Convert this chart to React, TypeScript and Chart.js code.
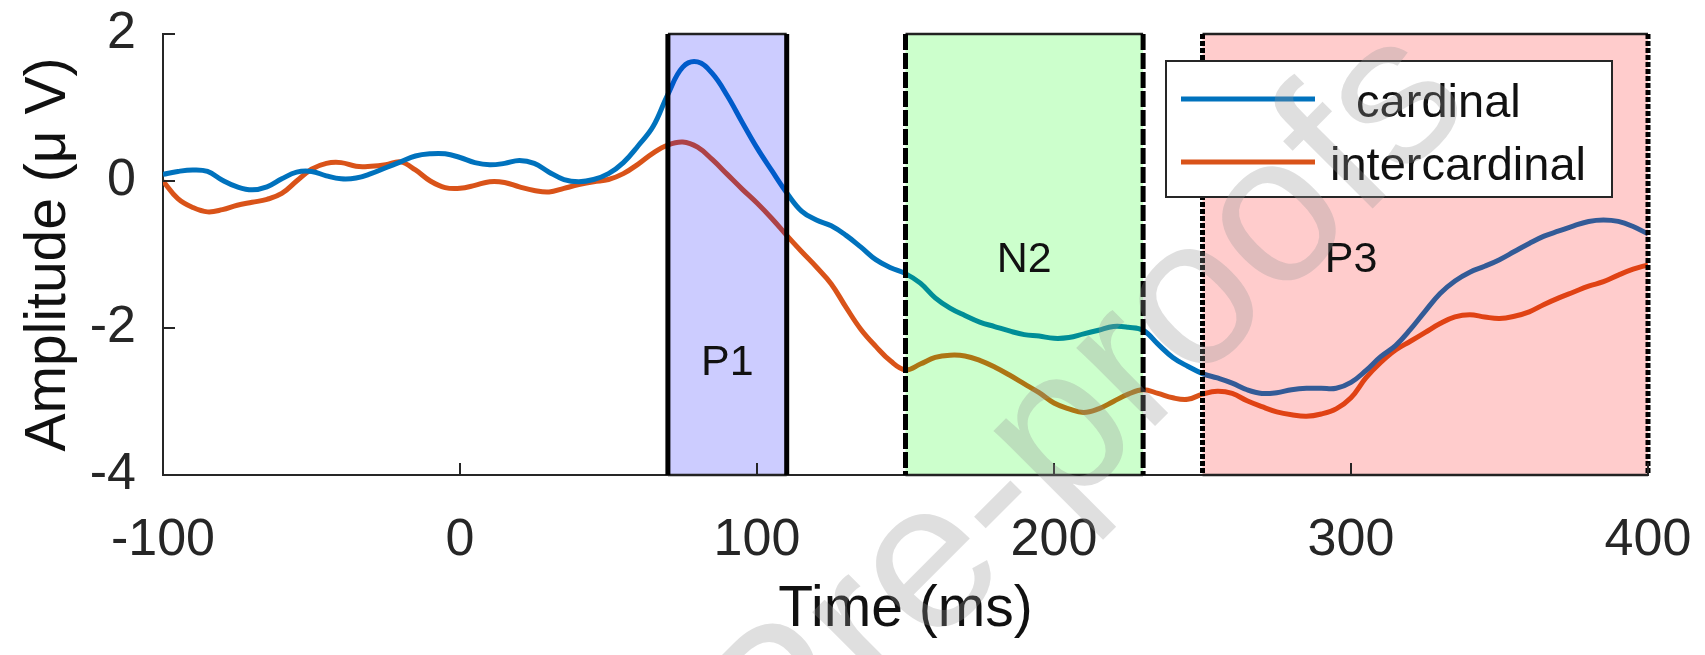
import React, { useEffect, useRef } from 'react';
import { Chart, registerables } from 'chart.js';

Chart.register(...registerables);

// ---------- data ----------
const TIME_MS = [
  -100, -95, -90, -85, -80, -75, -70, -65, -60, -55,
  -50, -45, -40, -35, -30, -25, -20, -15, -10, -5,
  0, 5, 10, 15, 20, 25, 30, 35, 40, 45,
  50, 55, 60, 65, 70, 75, 80, 85, 90, 95,
  100, 105, 110, 115, 120, 125, 130, 135, 140, 145,
  150, 155, 160, 165, 170, 175, 180, 185, 190, 195,
  200, 205, 210, 215, 220, 225, 230, 235, 240, 245,
  250, 255, 260, 265, 270, 275, 280, 285, 290, 295,
  300, 305, 310, 315, 320, 325, 330, 335, 340, 345,
  350, 355, 360, 365, 370, 375, 380, 385, 390, 395,
  400,
];

const CARDINAL = [
  0.09, 0.13, 0.15, 0.13, 0.01, -0.08, -0.12, -0.08, 0.03, 0.12,
  0.13, 0.07, 0.03, 0.04, 0.10, 0.18, 0.26, 0.34, 0.37, 0.37,
  0.32, 0.25, 0.22, 0.24, 0.28, 0.24, 0.12, 0.02, -0.01, 0.02,
  0.10, 0.25, 0.48, 0.74, 1.18, 1.55, 1.62, 1.46, 1.16, 0.80,
  0.45, 0.14, -0.16, -0.41, -0.53, -0.61, -0.74, -0.90, -1.07, -1.18,
  -1.26, -1.39, -1.59, -1.73, -1.83, -1.92, -1.98, -2.04, -2.09, -2.11,
  -2.14, -2.13, -2.08, -2.03, -1.98, -1.99, -2.03, -2.22, -2.40, -2.52,
  -2.62, -2.68, -2.75, -2.84, -2.89, -2.88, -2.84, -2.82, -2.82, -2.82,
  -2.74, -2.58, -2.39, -2.24, -2.02, -1.77, -1.53, -1.36, -1.24, -1.16,
  -1.07, -0.96, -0.85, -0.75, -0.68, -0.61, -0.55, -0.53, -0.55, -0.62,
  -0.72,
];

const INTERCARDINAL = [
  0.00, -0.24, -0.36, -0.42, -0.39, -0.33, -0.29, -0.25, -0.17, 0.00,
  0.16, 0.24, 0.25, 0.20, 0.20, 0.22, 0.26, 0.15, 0.00, -0.09,
  -0.10, -0.06, -0.01, -0.02, -0.08, -0.13, -0.15, -0.10, -0.05, -0.01,
  0.02, 0.10, 0.23, 0.38, 0.49, 0.53, 0.46, 0.29, 0.09, -0.11,
  -0.30, -0.51, -0.74, -0.96, -1.17, -1.40, -1.72, -2.02, -2.25, -2.45,
  -2.57, -2.49, -2.40, -2.37, -2.38, -2.44, -2.53, -2.64, -2.76, -2.88,
  -3.02, -3.10, -3.15, -3.10, -3.00, -2.90, -2.84, -2.89, -2.95, -2.97,
  -2.90, -2.86, -2.89, -2.99, -3.07, -3.14, -3.18, -3.20, -3.17, -3.10,
  -2.95, -2.68, -2.47, -2.30, -2.18, -2.06, -1.94, -1.85, -1.82, -1.85,
  -1.87, -1.84, -1.78, -1.68, -1.59, -1.51, -1.43, -1.37, -1.28, -1.20,
  -1.14,
];

const SERIES_LABELS = ['  cardinal', 'intercardinal'];
const SERIES_COLORS = ['#0072BD', '#D95319'];

const X_TICKS = [-100, 0, 100, 200, 300, 400];
const Y_TICKS = [-4, -2, 0, 2];

const WINDOW_NAMES = ['P1', 'N2', 'P3'];
const WINDOW_START = [70, 150, 250];
const WINDOW_END = [110, 230, 400];
const WINDOW_FILL = ['rgba(0,0,255,0.2)', 'rgba(0,255,0,0.2)', 'rgba(255,0,0,0.2)'];
const WINDOW_DASH: number[][] = [[], [16, 3], [5, 2]];
const WINDOW_LABEL_X = [90, 190, 300];
const WINDOW_LABEL_Y = [-2.64, -1.24, -1.24];

const WATERMARK = 'Journal Pre-proofs';

const FONT = '"Liberation Sans", Arial, Helvetica, sans-serif';
const AXIS_COLOR = '#262626';

// ---------- plugins ----------
const overlayPlugin = {
  id: 'overlay',
  afterDatasetsDraw(chart: any) {
    const { ctx } = chart;
    const xs = chart.scales.x;
    const ys = chart.scales.y;
    const top = ys.getPixelForValue(ys.max);
    const bottom = ys.getPixelForValue(ys.min);

    // analysis windows (semi-transparent patches over the traces)
    for (let i = 0; i < WINDOW_NAMES.length; i++) {
      const x1 = xs.getPixelForValue(WINDOW_START[i]);
      const x2 = xs.getPixelForValue(WINDOW_END[i]);
      ctx.save();
      ctx.fillStyle = WINDOW_FILL[i];
      ctx.fillRect(x1, top, x2 - x1, bottom - top);
      ctx.strokeStyle = '#222';
      ctx.lineWidth = 2.5;
      ctx.beginPath();
      ctx.moveTo(x1, top);
      ctx.lineTo(x2, top);
      ctx.moveTo(x1, bottom);
      ctx.lineTo(x2, bottom);
      ctx.stroke();
      ctx.strokeStyle = '#000';
      ctx.lineWidth = 5;
      ctx.setLineDash(WINDOW_DASH[i]);
      ctx.beginPath();
      ctx.moveTo(x1, top);
      ctx.lineTo(x1, bottom);
      ctx.moveTo(x2, top);
      ctx.lineTo(x2, bottom);
      ctx.stroke();
      ctx.restore();

      ctx.save();
      ctx.fillStyle = '#111';
      ctx.font = `43px ${FONT}`;
      ctx.textAlign = 'center';
      ctx.textBaseline = 'alphabetic';
      ctx.fillText(
        WINDOW_NAMES[i],
        xs.getPixelForValue(WINDOW_LABEL_X[i]),
        ys.getPixelForValue(WINDOW_LABEL_Y[i])
      );
      ctx.restore();
    }

    // inward tick marks
    ctx.save();
    ctx.strokeStyle = AXIS_COLOR;
    ctx.lineWidth = 2;
    ctx.beginPath();
    const left = chart.chartArea.left;
    for (const v of X_TICKS) {
      const px = xs.getPixelForValue(v);
      ctx.moveTo(px, bottom);
      ctx.lineTo(px, bottom - 12);
    }
    for (const v of Y_TICKS) {
      const py = ys.getPixelForValue(v);
      ctx.moveTo(left, py);
      ctx.lineTo(left + 12, py);
    }
    ctx.stroke();
    ctx.restore();
  },
  afterDraw(chart: any) {
    const { ctx } = chart;
    // legend box
    const L = 1166, T = 61, R = 1612, B = 197;
    ctx.save();
    ctx.fillStyle = '#ffffff';
    ctx.fillRect(L, T, R - L, B - T);
    ctx.strokeStyle = AXIS_COLOR;
    ctx.lineWidth = 2;
    ctx.strokeRect(L, T, R - L, B - T);
    const rowsY = [99, 162];
    chart.data.datasets.forEach((ds: any, i: number) => {
      const y = rowsY[i];
      ctx.strokeStyle = ds.borderColor;
      ctx.lineWidth = 5;
      ctx.beginPath();
      ctx.moveTo(1181, y);
      ctx.lineTo(1315, y);
      ctx.stroke();
      ctx.fillStyle = '#111';
      ctx.font = `47px ${FONT}`;
      ctx.textAlign = 'left';
      ctx.textBaseline = 'alphabetic';
      ctx.fillText(ds.label, 1330, y + 18);
    });
    ctx.restore();

    // watermark
    ctx.save();
    const fs = 210;
    ctx.font = `${fs}px ${FONT}`;
    const pre = ctx.measureText('Journal Pre-pr').width;
    const ow = ctx.measureText('o').width;
    const ang = (-45 * Math.PI) / 180;
    const cx = 1197, cy = 307;
    const lx = pre + ow / 2, ly = -0.26 * fs;
    const ox = cx - (lx * Math.cos(ang) - ly * Math.sin(ang));
    const oy = cy - (lx * Math.sin(ang) + ly * Math.cos(ang));
    ctx.translate(ox, oy);
    ctx.rotate(ang);
    ctx.fillStyle = 'rgba(150,150,150,0.3)';
    ctx.textAlign = 'left';
    ctx.textBaseline = 'alphabetic';
    ctx.fillText(WATERMARK, 0, 0);
    ctx.restore();
  },
};

export default function App() {
  const canvasRef = useRef<HTMLCanvasElement | null>(null);

  useEffect(() => {
    if (!canvasRef.current) return;
    const chart = new Chart(canvasRef.current, {
      type: 'line',
      data: {
        datasets: [
          {
            label: SERIES_LABELS[0],
            data: TIME_MS.map((t, i) => ({ x: t, y: CARDINAL[i] })),
            borderColor: SERIES_COLORS[0],
            borderWidth: 5,
            pointRadius: 0,
            tension: 0.4,
            fill: false,
          },
          {
            label: SERIES_LABELS[1],
            data: TIME_MS.map((t, i) => ({ x: t, y: INTERCARDINAL[i] })),
            borderColor: SERIES_COLORS[1],
            borderWidth: 5,
            pointRadius: 0,
            tension: 0.4,
            fill: false,
          },
        ],
      },
      options: {
        responsive: false,
        animation: false,
        devicePixelRatio: 1,
        layout: { padding: { left: 0, right: 57, top: 34, bottom: 0 } },
        plugins: {
          legend: { display: false },
          tooltip: { enabled: false },
          title: { display: false },
        },
        scales: {
          x: {
            type: 'linear',
            min: -100,
            max: 400,
            afterBuildTicks: (s: any) => {
              s.ticks = X_TICKS.map((v) => ({ value: v }));
            },
            afterFit: (s: any) => {
              s.height = 180;
              s.paddingLeft = 0;
              s.paddingRight = 0;
            },
            grid: { display: false, drawTicks: false },
            border: { display: true, color: AXIS_COLOR, width: 2 },
            ticks: {
              color: AXIS_COLOR,
              font: { size: 52, family: FONT },
              padding: 34,
              maxRotation: 0,
              autoSkip: false,
              callback: (v: any) => String(v),
            },
            title: {
              display: true,
              text: 'Time (ms)',
              color: '#111',
              font: { size: 57, family: FONT },
              padding: { top: 0, bottom: 11 },
            },
          },
          y: {
            type: 'linear',
            min: -4,
            max: 2,
            afterBuildTicks: (s: any) => {
              s.ticks = Y_TICKS.map((v) => ({ value: v }));
            },
            afterFit: (s: any) => {
              s.width = 163;
              s.paddingTop = 0;
              s.paddingBottom = 0;
            },
            grid: { display: false, drawTicks: false },
            border: { display: true, color: AXIS_COLOR, width: 2 },
            ticks: {
              color: AXIS_COLOR,
              font: { size: 52, family: FONT },
              padding: 27,
              autoSkip: false,
              callback: (v: any) => String(v),
            },
            title: {
              display: true,
              text: 'Amplitude (μ V)',
              color: '#111',
              font: { size: 57, family: FONT },
              padding: { top: 15, bottom: 0 },
            },
          },
        },
      } as any,
      plugins: [overlayPlugin],
    });
    return () => chart.destroy();
  }, []);

  return (
    <div style={{ position: 'fixed', left: 0, top: 0, width: 1705, height: 655, background: '#fff' }}>
      <canvas ref={canvasRef} width={1705} height={655} style={{ display: 'block' }} />
    </div>
  );
}
